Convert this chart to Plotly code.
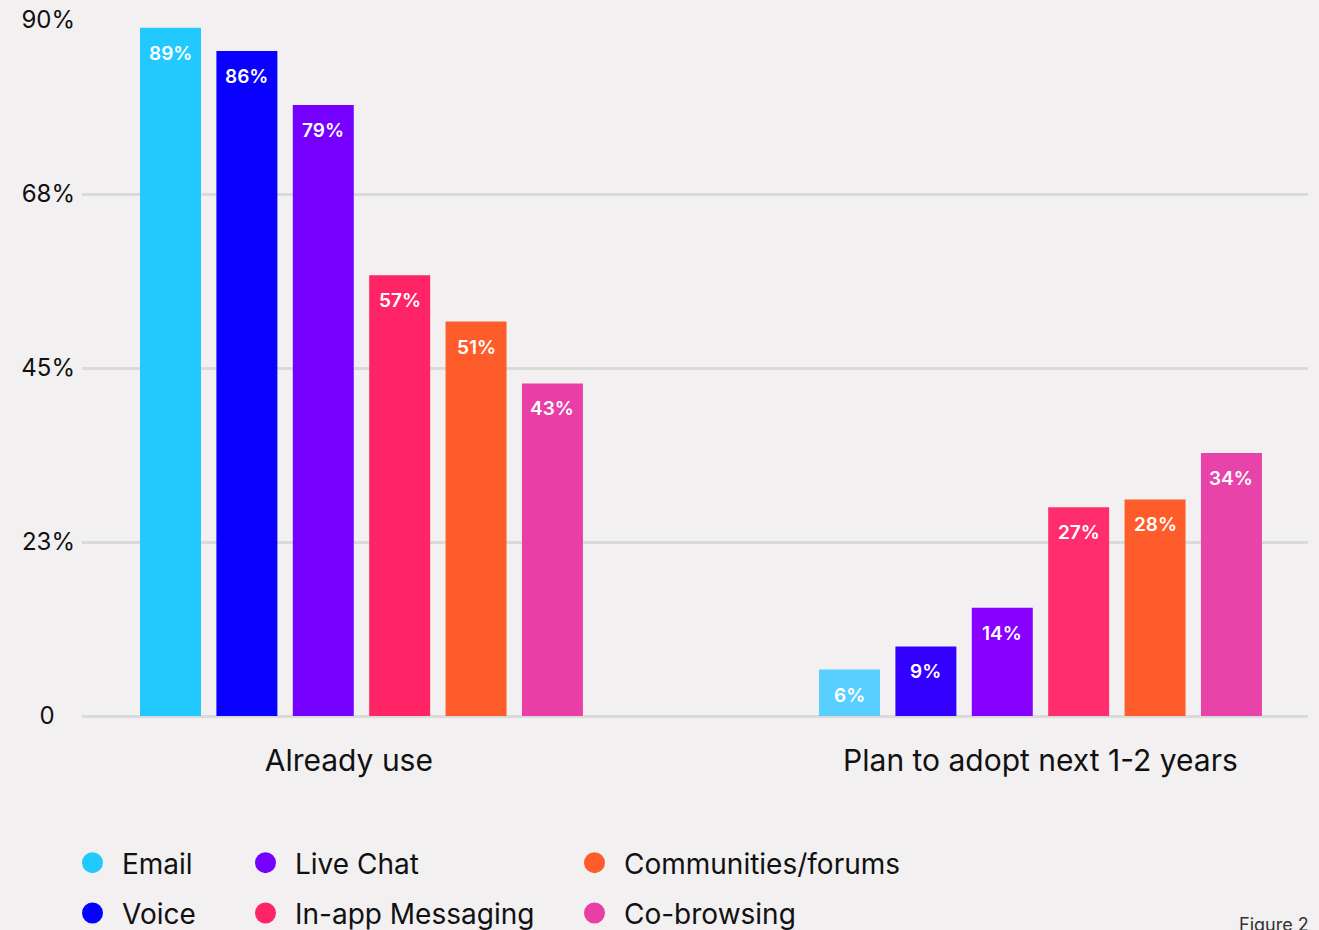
import plotly.graph_objects as go

# ---- data ----
groups = ["Already use", "Plan to adopt next 1-2 years"]
group_labels = ["Already use&nbsp;&nbsp;&nbsp;", "Plan to adopt next 1-2 years"]
channels = ["Email", "Voice", "Live Chat", "In-app Messaging", "Communities/forums", "Co-browsing"]
already_use = [89, 86, 79, 57, 51, 43]
plan_to_adopt = [6, 9, 14, 27, 28, 34]
colors_g1 = ["#22c9ff", "#0a00ff", "#7500ff", "#ff2466", "#ff5c2b", "#e83ea6"]
colors_g2 = ["#58cfff", "#3300ff", "#8800ff", "#ff2d6e", "#ff5c2b", "#e843a9"]
legend_colors = ["#22c9ff", "#0500ff", "#7500ff", "#ff2466", "#ff5c2b", "#e83ea6"]
ytick_vals = [0, 22.5, 45, 67.5, 90]
ytick_text = ["0&nbsp;&nbsp;&nbsp;", "23%", "45%", "68%", "90%"]

BG = "#f2f0f1"
FONT = "Inter"
slot = 0.1125
bar_w = 0.0898

fig = go.Figure()
annotations = []
for i, ch in enumerate(channels):
    xs = [g + (i - 2.5) * slot for g in range(len(groups))]
    ys = [already_use[i], plan_to_adopt[i]]
    fig.add_trace(go.Bar(
        x=xs, y=ys, width=bar_w, name=ch,
        marker=dict(color=[colors_g1[i], colors_g2[i]], line=dict(width=0)),
        showlegend=False, hoverinfo="skip",
    ))
    for x, y in zip(xs, ys):
        annotations.append(dict(
            x=x, y=y, xref="x", yref="y", text=f"{y}%", showarrow=False,
            yanchor="top", xanchor="center", yshift=-12,
            font=dict(family=FONT, size=19, color="white", weight=600),
        ))

# legend columns: (Email, Voice), (Live Chat, In-app), (Communities, Co-browsing)
legend_ids = ["legend", "legend", "legend2", "legend2", "legend3", "legend3"]
for i, ch in enumerate(channels):
    fig.add_trace(go.Scatter(
        x=[None], y=[None], mode="markers", name=ch,
        marker=dict(color=legend_colors[i], size=16, symbol="circle",
                    line=dict(color=legend_colors[i], width=5)),
        legend=legend_ids[i], legendgroup=ch, showlegend=True,
    ))

annotations.append(dict(
    text="Figure 2", xref="paper", yref="paper", x=0.942, y=-0.300,
    xanchor="left", yanchor="middle", showarrow=False,
    font=dict(family=FONT, size=18, color="#333333"),
))

leg_common = dict(
    orientation="v", xref="container", yref="container",
    xanchor="left", yanchor="top", y=0.099,
    font=dict(family=FONT, size=28, color="#111111"),
    bgcolor="rgba(0,0,0,0)", tracegroupgap=11, itemsizing="trace",
    itemwidth=49,
)

fig.update_layout(
    width=1319, height=930,
    paper_bgcolor=BG, plot_bgcolor=BG,
    margin=dict(l=82, r=11, t=20, b=214, autoexpand=False),
    barmode="overlay",
    font=dict(family=FONT, color="#111111"),
    xaxis=dict(
        range=[-0.4116, 1.394], tickvals=[0, 1], ticktext=group_labels,
        showgrid=False, zeroline=False, showline=False,
        tickfont=dict(family=FONT, size=30, color="#111111"),
        ticks="", ticklabelstandoff=24,
    ),
    yaxis=dict(
        range=[0, 90], tickvals=ytick_vals, ticktext=ytick_text,
        showgrid=True, gridcolor="#dadada", gridwidth=3,
        zeroline=True, zerolinecolor="#dadada", zerolinewidth=3,
        tickfont=dict(family=FONT, size=24, color="#111111"),
        ticks="", ticklabelstandoff=6,
    ),
    legend=dict(leg_common, x=63 / 1319),
    legend2=dict(leg_common, x=236 / 1319),
    legend3=dict(leg_common, x=565 / 1319),
    annotations=annotations,
)

fig.write_html("out.html")
